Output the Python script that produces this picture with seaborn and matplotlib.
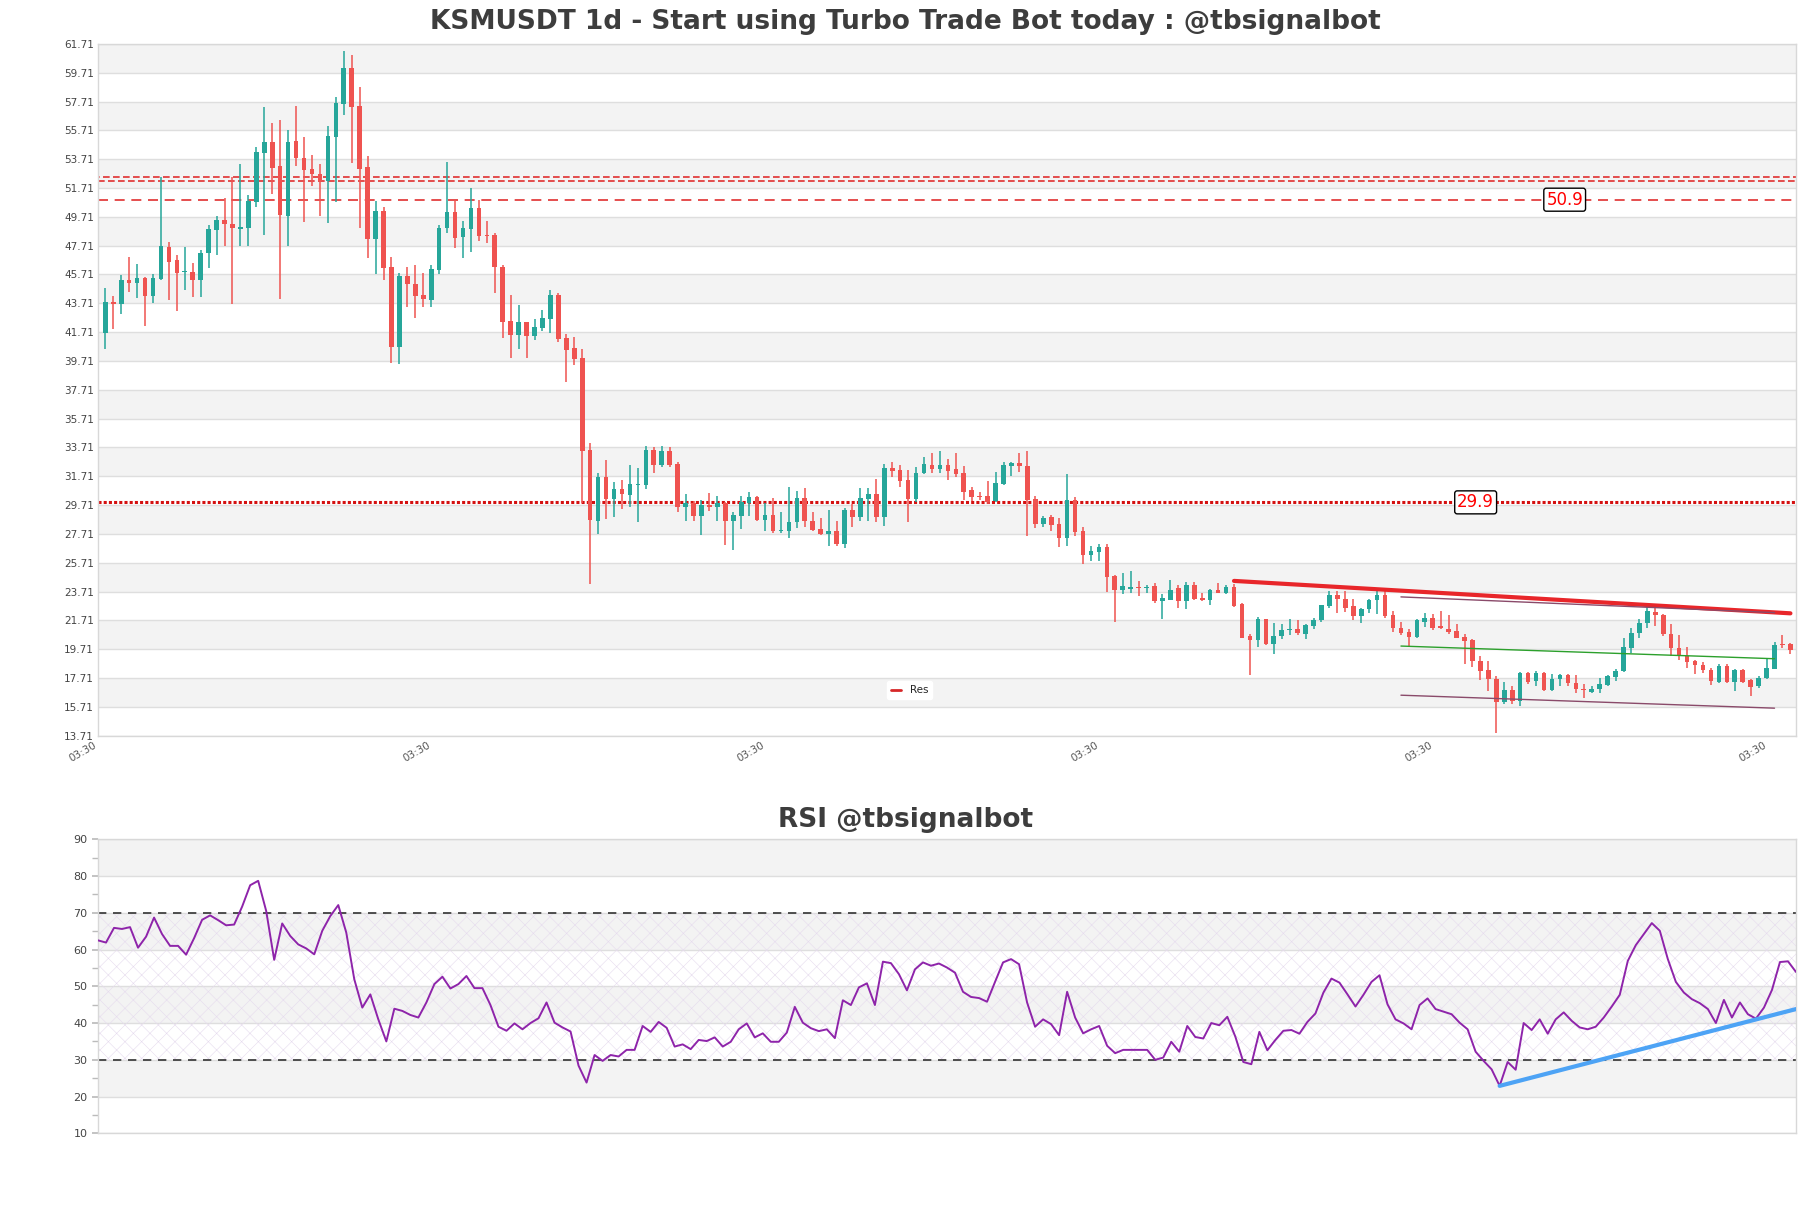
import numpy as np
import pandas as pd
import matplotlib
matplotlib.use('Agg')
import matplotlib.pyplot as plt
import seaborn as sns
from matplotlib.lines import Line2D

# ---------------- data ----------------
opens = [41.62,43.82,43.63,45.34,45.15,45.48,44.25,45.41,47.63,46.73,
45.86,45.87,45.30,47.21,48.83,49.48,49.23,48.90,48.97,50.77,
54.15,54.91,53.25,49.80,54.98,53.78,53.04,52.69,52.21,55.28,
57.57,60.05,57.41,53.18,48.18,50.13,46.20,40.67,45.62,45.04,
44.28,43.93,46.03,48.92,50.03,48.32,48.85,50.29,48.44,48.44,
46.22,42.45,41.53,42.41,41.46,41.99,42.61,44.28,41.27,40.58,
39.89,33.53,28.62,31.68,30.13,30.82,30.40,31.10,31.10,33.53,
32.51,33.48,32.55,29.55,29.85,28.92,29.71,29.55,29.85,28.62,
28.97,29.85,30.29,28.67,29.02,27.93,27.93,28.51,30.20,28.62,
28.05,27.70,27.88,27.00,29.36,28.90,30.13,30.47,28.85,32.25,
32.14,31.44,30.13,31.93,32.48,32.21,32.48,32.21,31.93,30.75,
30.31,30.31,30.01,31.17,32.44,32.62,32.39,30.13,28.39,28.86,
28.39,27.42,30.06,27.91,26.24,26.49,26.82,24.76,23.79,23.91,
24.02,23.95,24.07,23.03,23.14,23.95,23.03,24.18,23.28,23.10,
23.84,23.63,24.02,22.87,20.60,20.32,21.83,20.09,20.60,21.06,
21.13,20.78,21.32,21.71,22.71,23.49,23.21,22.68,22.01,22.48,
23.10,23.49,
22.06,21.21,20.91,20.58,21.62,21.90,21.32,21.14,20.98,20.58,
20.33,18.89,18.26,17.66,16.04,16.87,16.11,18.08,17.50,18.08,
16.85,17.61,17.91,17.38,16.96,16.76,16.92,17.24,17.80,18.17,
19.82,20.81,21.51,22.30,22.06,20.74,19.82,19.24,18.89,18.63,
18.26,17.45,18.54,17.45,18.24,17.54,17.15,17.68,18.36,20.09,20.09]

highs = [44.79,44.21,45.67,46.94,46.45,45.53,45.76,52.46,47.98,47.03,
47.63,46.52,47.44,49.11,49.76,51.03,52.46,53.39,51.26,54.54,
57.34,56.23,56.42,55.77,57.39,55.24,53.99,53.41,56.00,58.01,
61.22,60.92,58.75,53.94,50.82,50.36,46.89,45.78,46.24,46.34,
45.80,46.34,49.13,53.55,50.89,49.41,51.68,50.89,49.43,48.62,
46.38,44.30,43.61,42.43,42.61,43.24,44.63,44.46,41.57,41.34,
40.53,33.99,31.93,32.83,31.28,31.44,32.48,32.25,33.83,33.71,
33.83,33.71,32.72,30.47,30.01,30.06,30.52,30.36,29.90,29.20,
30.36,30.64,30.36,29.83,30.17,29.20,30.98,30.71,30.89,29.20,
28.81,29.36,28.58,29.50,29.78,30.89,30.89,31.51,32.55,32.67,
32.49,32.14,32.32,33.02,33.32,33.43,32.90,33.32,32.39,30.94,
30.64,31.35,31.98,32.67,32.72,33.32,33.43,30.36,28.97,29.02,
28.79,31.86,30.24,28.21,26.84,27.01,27.00,24.88,24.99,25.11,
24.42,24.18,24.32,23.51,24.53,24.14,24.37,24.37,23.61,23.91,
24.30,24.14,24.25,22.91,20.74,21.94,21.83,21.55,21.48,21.83,
21.76,21.48,21.87,22.80,23.72,23.72,23.74,23.21,22.57,23.21,
23.79,23.79,
22.37,21.60,21.09,21.79,22.25,22.13,22.37,22.09,21.44,20.74,
20.44,19.24,18.89,17.84,17.43,17.15,18.12,18.12,18.19,18.12,
17.96,18.01,17.96,17.91,17.27,17.15,17.73,17.89,18.31,20.51,
21.21,21.79,22.71,22.71,22.13,21.44,20.67,19.89,18.96,18.82,
18.43,18.66,18.66,18.36,18.31,17.66,17.84,19.12,20.21,20.72,20.16]

lows = [40.51,41.90,43.00,44.51,44.05,42.17,43.70,45.32,43.91,43.21,
44.60,44.16,44.16,46.17,47.03,47.72,43.63,47.68,47.68,50.40,
48.42,51.31,43.98,47.68,53.27,49.36,51.84,49.80,49.27,50.75,
56.81,53.46,48.95,46.87,45.71,45.36,39.58,39.49,43.47,42.71,
43.47,43.47,45.73,48.62,47.54,46.84,47.28,48.05,47.88,44.42,
41.29,39.91,40.53,39.91,41.18,41.80,41.64,41.06,38.27,39.45,
29.89,24.23,27.70,28.74,28.90,29.43,29.55,28.55,30.82,31.91,
32.37,32.32,29.20,28.62,28.62,27.65,29.32,28.58,26.96,26.61,
28.05,28.97,28.58,27.93,27.77,27.77,27.42,28.12,28.21,27.88,
27.65,26.84,26.89,26.73,28.21,28.62,28.62,28.51,28.28,31.63,
31.00,28.55,29.94,31.86,31.93,31.93,31.47,31.68,30.08,30.01,
30.08,29.78,29.90,31.10,31.70,31.98,27.58,28.12,28.16,27.93,
26.82,26.89,27.58,25.62,25.85,25.85,23.70,21.59,23.56,23.61,
23.40,23.63,22.94,21.83,23.10,22.59,22.52,23.14,23.03,22.80,
23.61,23.56,22.64,20.49,17.90,19.86,20.02,19.35,20.44,20.67,
20.72,20.39,21.13,21.60,22.57,22.24,22.29,21.71,21.53,22.24,
22.17,21.90,
20.91,20.67,19.89,20.51,21.28,21.02,21.09,20.74,20.47,18.66,
18.47,17.57,16.80,13.90,15.92,15.88,15.76,17.31,17.15,16.80,
16.80,17.15,17.15,16.64,16.34,16.64,16.69,17.15,17.50,18.12,
19.47,20.46,21.16,21.32,20.63,19.24,18.96,18.43,17.96,18.08,
17.22,17.38,17.38,16.80,17.38,16.45,17.03,17.61,18.31,19.77,19.35]

closes = [43.82,43.65,45.32,45.15,45.48,44.25,45.48,47.70,46.59,45.78,
45.88,45.30,47.21,48.88,49.48,49.18,48.97,49.00,50.82,54.22,
54.91,53.11,49.85,54.91,53.76,52.99,52.65,52.21,55.31,57.60,
60.05,57.36,53.04,48.18,50.13,46.17,40.67,45.62,45.04,44.23,
44.02,46.08,48.92,50.03,48.23,48.92,50.29,48.39,48.39,46.20,
42.43,41.53,42.41,41.46,42.06,42.68,44.28,41.23,40.49,39.84,
33.48,28.69,31.63,30.13,30.82,30.47,31.17,31.17,33.53,32.51,
33.48,32.48,29.55,29.85,28.92,29.71,29.55,29.85,28.62,29.02,
29.90,30.24,28.67,29.02,27.88,28.00,28.51,30.20,28.58,27.98,
27.70,27.88,27.00,29.36,28.90,30.17,30.47,28.86,32.25,32.09,
31.40,30.13,31.93,32.55,32.21,32.48,32.09,31.86,30.64,30.29,
30.27,29.90,31.24,32.48,32.62,32.39,30.08,28.39,28.81,28.35,
27.42,30.06,27.86,26.24,26.54,26.82,24.69,23.79,24.07,24.02,
23.98,24.02,23.03,23.26,23.84,23.05,24.18,23.21,23.10,23.84,
23.63,24.02,22.68,20.51,20.32,21.83,20.09,20.62,21.06,21.08,
20.85,21.41,21.76,22.75,23.49,23.17,22.59,22.01,22.52,23.14,
23.49,22.01,
21.21,20.86,20.58,21.72,21.90,21.21,21.21,20.93,20.51,20.28,
18.89,18.17,17.61,16.04,16.87,16.11,18.08,17.45,18.08,16.85,
17.66,17.91,17.34,16.92,16.87,16.96,17.31,17.84,18.19,19.89,
20.86,21.55,22.37,22.06,20.74,19.82,19.24,18.82,18.59,18.24,
17.50,18.54,17.45,18.24,17.45,17.10,17.73,18.43,20.00,20.00,19.65]

rsi = [62.5,61.9,65.9,65.6,66.1,60.5,63.5,68.7,64.2,61.0,
61.0,58.6,63.1,68.1,69.3,68.0,66.6,66.8,71.7,77.5,
78.7,70.5,57.2,67.1,63.7,61.4,60.3,58.7,65.1,69.1,
72.1,64.6,51.9,44.2,47.8,41.0,35.0,43.9,43.3,42.2,
41.5,45.6,50.6,52.6,49.4,50.6,52.8,49.5,49.5,44.9,
39.0,37.9,39.9,38.3,40.0,41.3,45.6,40.1,38.8,37.7,
28.4,23.8,31.3,29.7,31.3,30.9,32.7,32.7,39.2,37.6,
40.3,38.7,33.6,34.2,32.9,35.4,35.1,36.1,33.6,34.9,
38.3,39.9,36.1,37.2,34.9,34.9,37.4,44.4,40.1,38.6,
37.8,38.3,35.9,46.2,44.9,49.7,50.8,44.9,56.7,56.3,
53.3,48.9,54.6,56.5,55.6,56.2,55.1,53.7,48.5,47.1,
46.8,45.8,51.2,56.5,57.4,56.0,45.6,39.0,41.0,39.7,
36.7,48.5,41.5,37.2,38.3,39.2,33.8,31.8,32.7,32.7,
32.7,32.7,30.0,30.6,34.9,32.2,39.2,36.2,35.8,40.0,
39.4,41.7,36.3,29.4,28.8,37.6,32.6,35.4,37.9,38.1,
37.1,40.3,42.6,48.3,52.1,51.0,47.8,44.5,47.7,51.2,
53.0,45.1,41.0,39.9,38.3,44.9,46.7,43.8,43.1,42.4,
40.1,38.3,32.2,29.7,27.4,22.9,29.4,27.3,40.0,38.1,
41.0,37.1,41.0,42.9,40.6,38.8,38.3,39.0,41.5,44.5,
47.7,56.9,61.2,64.2,67.2,65.1,57.4,51.2,48.3,46.5,
45.4,43.8,40.0,46.3,41.5,45.6,42.4,41.2,44.2,49.0,
56.6,56.8,53.9]

# horizontal levels and trend lines
level_main = 50.9
level_cross = [52.18, 52.46]
level_dotted = 29.9
res_x = [142, 212]
res_y = [24.45, 22.20]
chan_x = [163, 210]
chan_top = [23.34, 22.25]
chan_mid = [19.93, 19.05]
chan_low = [16.52, 15.62]
rsi_trend_x = [175, 212]
rsi_trend_y = [22.9, 43.8]
price_ticks = [13.71 + 2 * k for k in range(25)]
x_tick_pos = [-0.85 + 42 * k for k in range(6)]
x_tick_labels = ['03:30'] * 6
title = 'KSMUSDT 1d - Start using Turbo Trade Bot today : @tbsignalbot'
rsi_title = 'RSI @tbsignalbot'

# ---------------- style ----------------
sns.set_theme(style='white')
plt.rcParams['font.family'] = ['DejaVu Sans']
plt.rcParams['hatch.linewidth'] = 0.4

N = len(opens)
df = pd.DataFrame({'i': np.arange(N), 'open': opens, 'high': highs,
                   'low': lows, 'close': closes})
GREEN, RED = '#26a69a', '#ef5350'
df['color'] = np.where(df['close'] >= df['open'], GREEN, RED)

fig = plt.figure(figsize=(18.11, 12.08), dpi=100)
ax = fig.add_axes([0.05411, 0.39098, 0.93760, 0.57268])

# bands and grid
for k in range(24):
    lo = price_ticks[k]
    if k % 2 == 1:
        ax.axhspan(lo, lo + 2, color='#f3f3f3', lw=0, zorder=0)
for v in price_ticks:
    ax.axhline(v, color='#dedede', lw=1, zorder=0.5)

# candles
ax.vlines(df['i'], df['low'], df['high'], colors=df['color'], lw=1.1, zorder=3)
body_bottom = np.minimum(df['open'], df['close'])
body_h = np.maximum((df['close'] - df['open']).abs(), 0.07)
ax.bar(df['i'], body_h, bottom=body_bottom, width=0.58, color=df['color'],
       lw=0, zorder=4)

# horizontal levels
ax.axhline(level_main, color='#e03030', lw=1.2, ls=(0, (6, 4)), zorder=2)
ax.axhline(level_cross[0], color='#e03030', lw=1.2, ls=(0, (4, 2)), zorder=2)
ax.axhline(level_cross[1], color='#e03030', lw=1.2, ls=(3, (4, 2)), zorder=2)
ax.axhline(level_dotted, color='#d41010', lw=2.2, ls=(0, (1, 0.7)), zorder=2)

ax.text(183.6, level_main, '50.9', color='red', fontsize=12, ha='center', va='center',
        bbox=dict(boxstyle='round,pad=0.15', fc='white', ec='black', lw=1), zorder=6)
ax.text(172.4, level_dotted, '29.9', color='red', fontsize=12, ha='center', va='center',
        bbox=dict(boxstyle='round,pad=0.15', fc='white', ec='black', lw=1), zorder=6)

# trend lines
sns.lineplot(x=res_x, y=res_y, color='#e8262a', lw=3, ax=ax, legend=False, zorder=5)
sns.lineplot(x=chan_x, y=chan_top, color='#8a4a6a', lw=1, ax=ax, legend=False, zorder=5)
sns.lineplot(x=chan_x, y=chan_mid, color='#2ca02c', lw=1, ax=ax, legend=False, zorder=5)
sns.lineplot(x=chan_x, y=chan_low, color='#8a4a6a', lw=1, ax=ax, legend=False, zorder=5)

ax.legend(handles=[Line2D([0], [0], color='#d62728', lw=2)], labels=['Res'],
          loc='lower center', bbox_to_anchor=(0.478, 0.045), fontsize=7.5,
          frameon=True, framealpha=1, edgecolor='white', handlelength=1.0)

ax.set_xlim(-0.92, 212.7)
ax.set_ylim(13.71, 61.71)
ax.set_yticks(price_ticks)
ax.set_yticklabels([f'{v:.2f}' for v in price_ticks], fontsize=7.5, color='#444444')
ax.set_xticks(x_tick_pos)
ax.set_xticklabels(x_tick_labels, rotation=30, ha='right', fontsize=7.5, color='#555555')
ax.tick_params(axis='both', length=0, pad=3)
ax.set_xlabel('')
ax.set_ylabel('')
for s in ax.spines.values():
    s.set_color('#d8d8d8')
    s.set_linewidth(1)

# ---------------- RSI ----------------
ax2 = fig.add_axes([0.05411, 0.06184, 0.93760, 0.24338])
for lo in [20, 40, 60, 80]:
    ax2.axhspan(lo, lo + 10, color='#f3f3f3', lw=0, zorder=0)
ax2.axhspan(30, 70, fill=False, hatch='xx', edgecolor='#e6dbee', lw=0, zorder=0.6)
for v in range(10, 91, 10):
    ax2.axhline(v, color='#dedede', lw=1, zorder=0.5)
ax2.axhline(70, color='#333333', lw=1.2, ls=(0, (5, 4)), zorder=2)
ax2.axhline(30, color='#333333', lw=1.2, ls=(0, (5, 4)), zorder=2)

sns.lineplot(x=np.arange(N), y=rsi, color='#8e24aa', lw=1.4, ax=ax2, legend=False, zorder=4)
sns.lineplot(x=rsi_trend_x, y=rsi_trend_y, color='#4da3f5', lw=3, ax=ax2, legend=False, zorder=5)

ax2.set_xlim(0, N - 1)
ax2.set_ylim(10, 90)
ax2.set_yticks(range(10, 91, 10))
ax2.set_yticks(range(15, 90, 10), minor=True)
ax2.set_yticklabels([str(v) for v in range(10, 91, 10)], fontsize=8, color='#444444')
ax2.set_xticks([])
ax2.tick_params(axis='y', which='both', length=4, color='#bbbbbb', left=True)
ax2.set_xlabel('')
ax2.set_ylabel('')
for s in ax2.spines.values():
    s.set_color('#d8d8d8')
    s.set_linewidth(1)

fig.text(0.5, 1 - 22 / 1208, title, ha='center', va='center', fontsize=19,
         fontweight='bold', color='#3d3d3d')
fig.text(0.5, 1 - 820 / 1208, rsi_title, ha='center', va='center', fontsize=19,
         fontweight='bold', color='#3d3d3d')

fig.savefig('out.png', dpi=100)
